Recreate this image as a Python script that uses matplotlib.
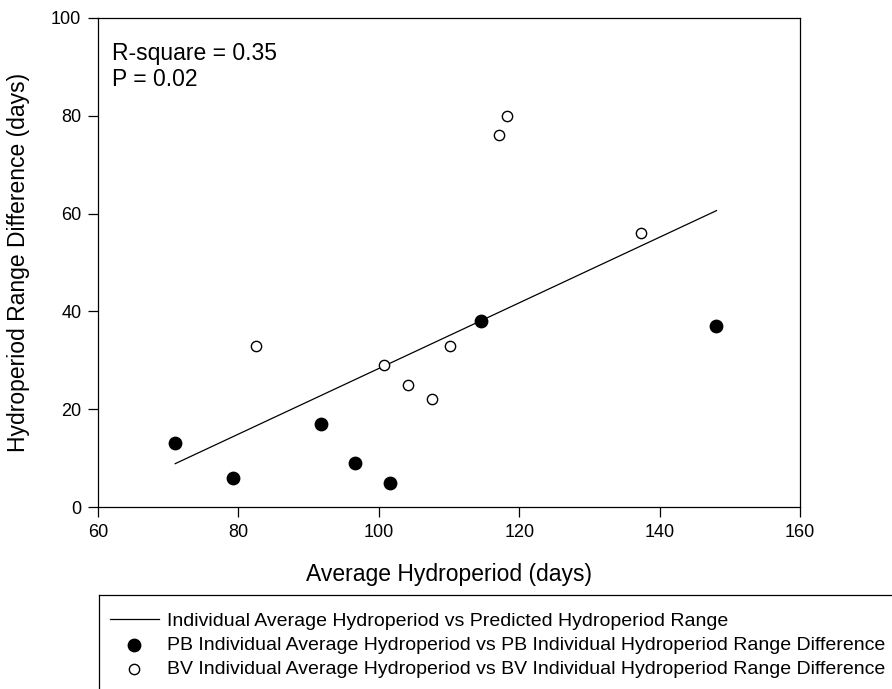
import numpy as np
import matplotlib
matplotlib.use("Agg")
import matplotlib.pyplot as plt
from matplotlib.lines import Line2D

plt.rcParams['font.family'] = ['Liberation Sans', 'DejaVu Sans']

# Data
pb_x = [71.0, 79.3, 91.8, 96.6, 101.6, 114.5, 148.1]
pb_y = [13, 6, 17, 9, 5, 38, 37]
bv_x = [82.5, 100.8, 104.1, 107.6, 110.1, 117.1, 118.2, 137.3]
bv_y = [33, 29, 25, 22, 33, 76, 80, 56]

xticks = [60, 80, 100, 120, 140, 160]
yticks = [0, 20, 40, 60, 80, 100]

all_x = np.array(pb_x + bv_x)
all_y = np.array(pb_y + bv_y)
slope, intercept = np.polyfit(all_x, all_y, 1)
fit_x = np.array([all_x.min(), all_x.max()])
fit_y = slope * fit_x + intercept

W, H = 892, 689
fig = plt.figure(figsize=(W / 100, H / 100), dpi=100)
ax = fig.add_axes([98 / W, 1 - 507 / H, (800 - 98) / W, (507 - 18) / H])

ln, = ax.plot(fit_x, fit_y, color='black', lw=0.9)
pb = ax.scatter(pb_x, pb_y, s=80, color='black', zorder=3)
bv = ax.scatter(bv_x, bv_y, s=55, facecolor='white', edgecolor='black', linewidth=1.0, zorder=3)

ax.set_xlim(60, 160)
ax.set_ylim(0, 100)
ax.set_xticks(xticks)
ax.set_yticks(yticks)
ax.tick_params(direction='out', length=7, width=0.9, labelsize=13, colors='black', pad=5)
for sp in ax.spines.values():
    sp.set_linewidth(0.9)

ax.set_xlabel('Average Hydroperiod (days)', fontsize=16.5)
ax.xaxis.set_label_coords(0.5, -(563 - 507) / 489)
ax.set_ylabel('Hydroperiod Range Difference (days)', fontsize=16.5)
ax.yaxis.set_label_coords(-(98 - 30) / 702, 0.5)

ax.text(0.02, (507 - 66.5) / 489, 'R-square = 0.35\nP = 0.02', transform=ax.transAxes,
        fontsize=16.5, va='center', ha='left', linespacing=1.18)

leg = fig.legend([ln, pb, bv],
                 ['Individual Average Hydroperiod vs Predicted Hydroperiod Range',
                  'PB Individual Average Hydroperiod vs PB Individual Hydroperiod Range Difference',
                  'BV Individual Average Hydroperiod vs BV Individual Hydroperiod Range Difference'],
                 loc='upper left', bbox_to_anchor=(110 / W, 1 - 612 / H),
                 frameon=False, fontsize=14, handlelength=2.5, handletextpad=0.45,
                 labelspacing=0.34, borderaxespad=0, borderpad=0)

# legend box edges (top and left; extends beyond figure)
fig.add_artist(Line2D([99 / W, 1.0], [1 - 595 / H, 1 - 595 / H], transform=fig.transFigure,
                      color='black', lw=0.9))
fig.add_artist(Line2D([99 / W, 99 / W], [1 - 595 / H, 0.0], transform=fig.transFigure,
                      color='black', lw=0.9))

fig.savefig('out.png', dpi=100)
